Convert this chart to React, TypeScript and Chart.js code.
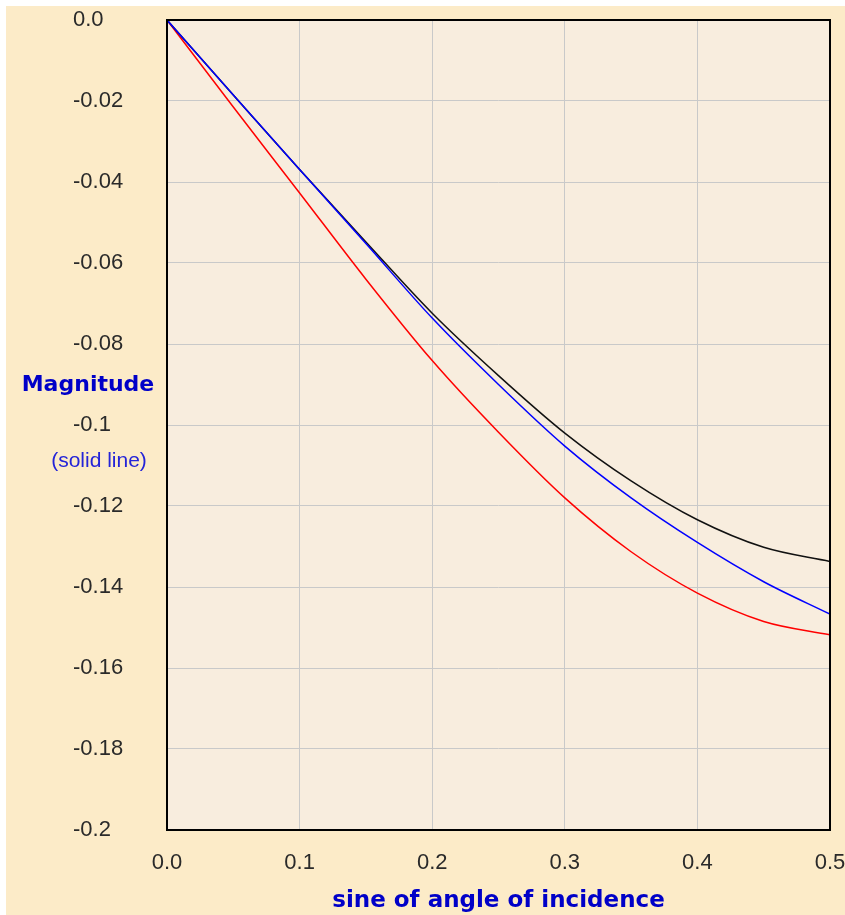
import React, { useEffect, useRef } from "react";
import { Chart, registerables } from "chart.js";

Chart.register(...registerables);

// ---- data ----
const xValues = [0, 0.05, 0.1, 0.15, 0.2, 0.25, 0.3, 0.35, 0.4, 0.45, 0.5];
const blackValues = [0, -0.0185, -0.0369, -0.0548, -0.0724, -0.0878, -0.102, -0.1138, -0.1234, -0.1302, -0.1337];
const blueValues = [0, -0.0185, -0.0369, -0.0552, -0.0736, -0.09, -0.1052, -0.118, -0.129, -0.1387, -0.1467];
const redValues = [0, -0.0215, -0.0427, -0.064, -0.0841, -0.1018, -0.118, -0.1313, -0.1415, -0.1485, -0.1518];

const yTickValues = [0, -0.02, -0.04, -0.06, -0.08, -0.1, -0.12, -0.14, -0.16, -0.18, -0.2];
const yTickLabels = ["0.0", "-0.02", "-0.04", "-0.06", "-0.08", "-0.1", "-0.12", "-0.14", "-0.16", "-0.18", "-0.2"];
const xTickValues = [0, 0.1, 0.2, 0.3, 0.4, 0.5];
const xTickLabels = ["0.0", "0.1", "0.2", "0.3", "0.4", "0.5"];

const yTitle = "Magnitude";
const ySubTitle = "(solid line)";
const xTitle = "sine of angle of incidence";

const OUTER_BG = "#FCEBC8";
const PLOT_BG = "#F8EDDE";
const TITLE_BLUE = "#0000C8";

const toPoints = (ys: number[]) => ys.map((y, i) => ({ x: xValues[i], y }));

const nearestLabel = (v: number, vals: number[], labels: string[]) => {
  let best = 0;
  for (let i = 1; i < vals.length; i++) {
    if (Math.abs(vals[i] - v) < Math.abs(vals[best] - v)) best = i;
  }
  return labels[best];
};

const decorPlugin = {
  id: "decor",
  beforeDraw(chart: any) {
    const { ctx, width, height, chartArea } = chart;
    ctx.save();
    ctx.fillStyle = "#ffffff";
    ctx.fillRect(0, 0, width, height);
    ctx.fillStyle = OUTER_BG;
    ctx.fillRect(6, 6, width - 6, height - 6);
    ctx.fillStyle = PLOT_BG;
    ctx.fillRect(chartArea.left, chartArea.top, chartArea.right - chartArea.left, chartArea.bottom - chartArea.top);
    ctx.restore();
  },
  afterDatasetsDraw(chart: any) {
    const { ctx, chartArea } = chart;
    ctx.save();
    ctx.strokeStyle = "#000000";
    ctx.lineWidth = 2;
    ctx.strokeRect(chartArea.left, chartArea.top, chartArea.right - chartArea.left, chartArea.bottom - chartArea.top);
    ctx.restore();
  },
  afterDraw(chart: any) {
    const { ctx } = chart;
    ctx.save();
    ctx.textAlign = "center";
    ctx.textBaseline = "alphabetic";
    ctx.fillStyle = TITLE_BLUE;
    ctx.font = 'bold 22px "DejaVu Sans", sans-serif';
    ctx.fillText(yTitle, 88, 391);
    ctx.fillStyle = "#2424D8";
    ctx.font = '21px "Liberation Sans", Arial, sans-serif';
    ctx.fillText(ySubTitle, 99, 467);
    ctx.restore();
  },
};

export default function App() {
  const ref = useRef<HTMLCanvasElement>(null);
  useEffect(() => {
    if (!ref.current) return;
    const chart = new Chart(ref.current, {
      type: "line",
      data: {
        datasets: [
          {
            label: "blue",
            data: toPoints(blueValues),
            borderColor: "#0000FF",
            borderWidth: 1.5,
            order: 1,
          },
          {
            label: "black",
            data: toPoints(blackValues),
            borderColor: "#111111",
            borderWidth: 1.5,
            order: 2,
          },
          {
            label: "red",
            data: toPoints(redValues),
            borderColor: "#FF0000",
            borderWidth: 1.5,
            order: 3,
          },
        ],
      },
      options: {
        animation: false,
        responsive: false,
        maintainAspectRatio: false,
        devicePixelRatio: 1,
        layout: { padding: { left: 73, top: 20, right: 15, bottom: 0 } },
        elements: {
          point: { radius: 0, hoverRadius: 0 },
          line: { tension: 0.4, cubicInterpolationMode: "monotone", fill: false },
        },
        plugins: {
          legend: { display: false },
          tooltip: { enabled: false },
          title: { display: false },
        },
        events: [],
        scales: {
          x: {
            type: "linear",
            min: 0,
            max: 0.5,
            afterBuildTicks: (scale: any) => {
              scale.ticks = xTickValues.map((v) => ({ value: v }));
            },
            afterFit: (scale: any) => {
              scale.height = 85;
              scale.paddingLeft = 0;
              scale.paddingRight = 0;
            },
            grid: { color: "#C9C9C9", lineWidth: 1, drawTicks: false },
            border: { display: false },
            ticks: {
              padding: 20,
              color: "#2A2A2A",
              font: { family: '"Liberation Sans", Arial, sans-serif', size: 22 },
              maxRotation: 0,
              autoSkip: false,
              callback: (v: any) => nearestLabel(Number(v), xTickValues, xTickLabels),
            },
            title: {
              display: true,
              text: xTitle,
              color: TITLE_BLUE,
              font: { family: '"DejaVu Sans", sans-serif', size: 23, weight: "bold" },
              padding: { top: 0, bottom: 0 },
            },
          },
          y: {
            type: "linear",
            min: -0.2,
            max: 0,
            afterBuildTicks: (scale: any) => {
              scale.ticks = yTickValues.slice().reverse().map((v) => ({ value: v }));
            },
            afterFit: (scale: any) => {
              scale.width = 94;
              scale.paddingTop = 0;
              scale.paddingBottom = 0;
            },
            grid: { color: "#C9C9C9", lineWidth: 1, drawTicks: false },
            border: { display: false },
            ticks: {
              crossAlign: "far",
              padding: 8,
              color: "#2A2A2A",
              font: { family: '"Liberation Sans", Arial, sans-serif', size: 22 },
              autoSkip: false,
              callback: (v: any) => nearestLabel(Number(v), yTickValues, yTickLabels),
            },
          },
        },
      },
      plugins: [decorPlugin],
    } as any);
    return () => chart.destroy();
  }, []);
  return (
    <div style={{ position: "fixed", left: 0, top: 0, width: 845, height: 915 }}>
      <canvas ref={ref} width={845} height={915} style={{ width: 845, height: 915, display: "block" }} />
    </div>
  );
}
